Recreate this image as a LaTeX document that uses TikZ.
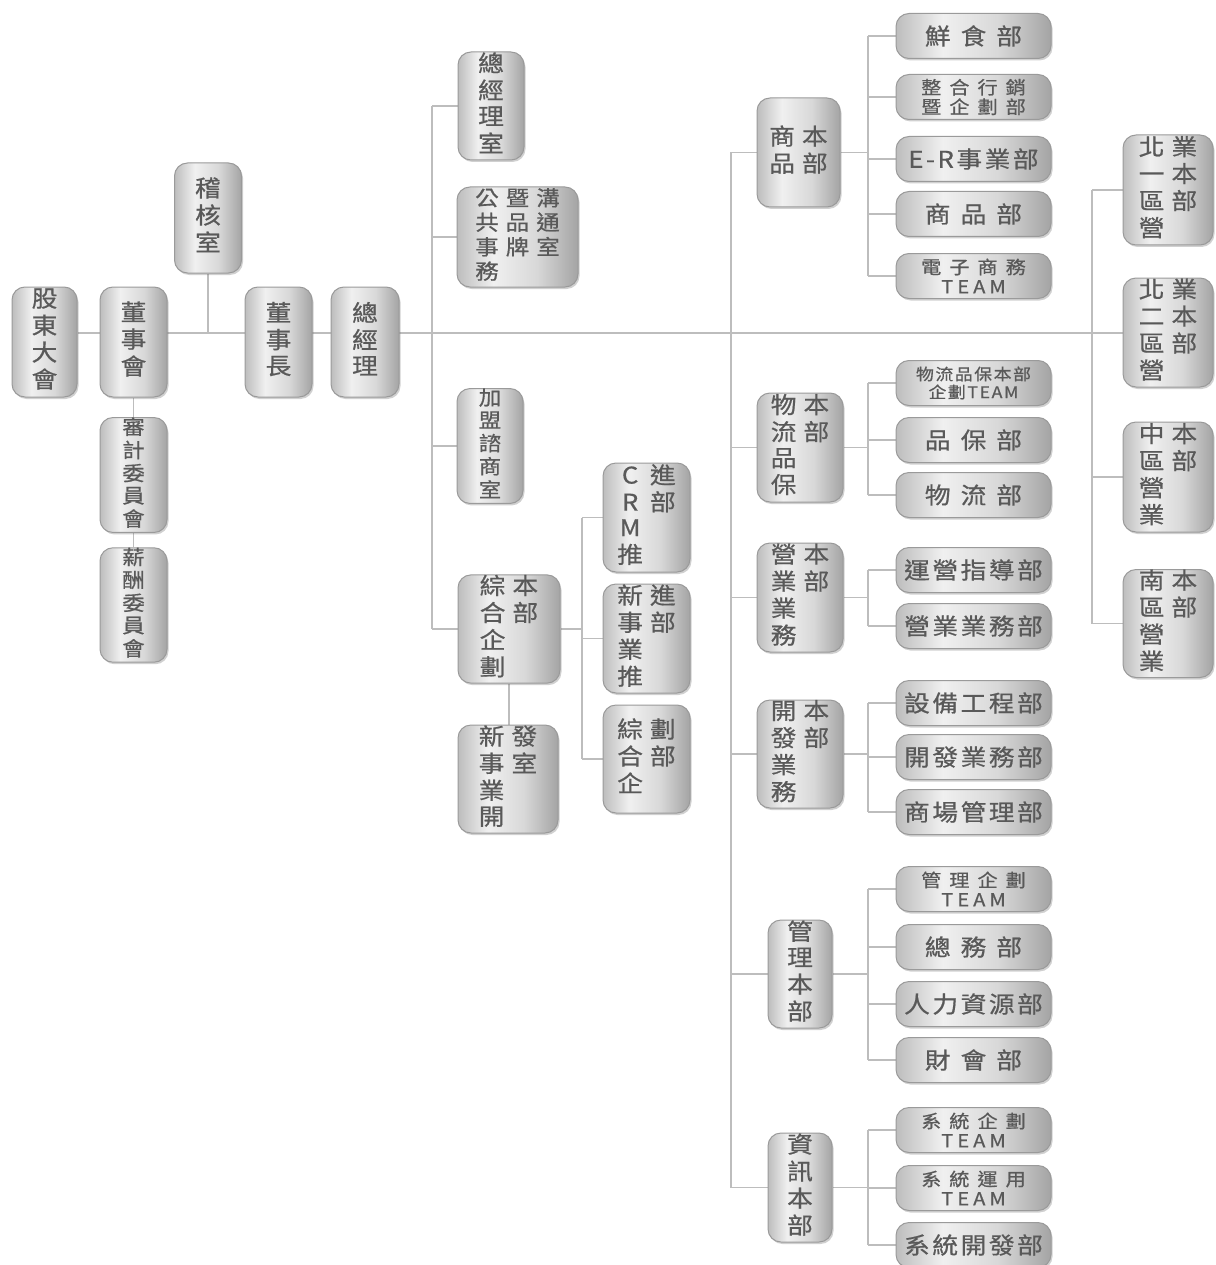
\documentclass[tikz,border=0pt]{standalone}
\usepackage{fontspec}
\newfontfamily\cjk[FakeStretch=1.12,FakeBold=0.7]{Noto Sans CJK TC}
\usetikzlibrary{shadows,backgrounds}
\definecolor{txt}{HTML}{595959}
\definecolor{edge}{HTML}{9A9A9A}
\definecolor{ln}{HTML}{BDBDBD}
\definecolor{shL}{HTML}{BDBDBD}
\definecolor{shM}{HTML}{F0F0F0}
\definecolor{shN}{HTML}{D8D8D8}
\definecolor{shR}{HTML}{A4A4A4}
\pgfdeclarehorizontalshading{boxsh}{100bp}{color(0bp)=(shL); color(25bp)=(shL); color(40bp)=(shM); color(58bp)=(shN); color(75bp)=(shR); color(100bp)=(shR)}
\makeatletter
\newcommand\spc[2]{\def\spc@gap{#1}\spc@a#2\@nil}
\def\spc@a#1{#1\spc@b}
\def\spc@b#1{\ifx\@nil#1\else\hspace{\spc@gap}#1\expandafter\spc@b\fi}
\makeatother
\newcommand\vg[2]{\begin{tabular}{@{}#1@{}}#2\end{tabular}}
\newcommand\vA[1]{\vg{c}{#1}}
\newcommand\vB[1]{\vg{c@{\hspace{7pt}}c}{#1}}
\tikzset{
  box/.style={draw=edge, line width=1pt, rounded corners=13pt, shade, shading=boxsh,
    text=txt, inner sep=0pt, font=\cjk\fontsize{23}{25.5}\selectfont,
    drop shadow={shadow xshift=1.5pt, shadow yshift=-2pt, opacity=0.3, fill=black!60}},
  sz/.style 2 args={minimum width=#1pt, minimum height=#2pt},
  leaf/.style={box, sz={155}{45}, align=center},
  two/.style={font=\cjk\fontsize{18}{19.5}\selectfont},
  conn/.style={draw=ln, line width=1.3pt}
}
\begin{document}
\begin{tikzpicture}[x=1pt,y=-1pt]
\useasboundingbox (0,0) rectangle (1215,1265);
% left group
\node[box,sz={65}{110}] (gd) at (44.5,342) {\vA{股\\東\\大\\會}};
\node[box,sz={67}{110}] (dsh) at (133.5,342) {\vA{董\\事\\會}};
\node[box,sz={67}{110}] (jh) at (208,218) {\vA{稽\\核\\室}};
\node[box,sz={67}{110}] (dsz) at (278.5,342) {\vA{董\\事\\長}};
\node[box,sz={68}{110}] (zjl) at (365,342) {\vA{總\\經\\理}};
\node[box,sz={67}{110},font=\cjk\fontsize{20}{21}\selectfont] (sj) at (133.5,475) {\vA{審\\計\\委\\員\\會}};
\node[box,sz={67}{110},font=\cjk\fontsize{20}{21}\selectfont] (xc) at (133.5,605) {\vA{薪\\酬\\委\\員\\會}};
% column 1
\node[box,sz={66}{108}] (zjls) at (491,106) {\vA{總\\經\\理\\室}};
\node[box,sz={121}{100},font=\cjk\fontsize{21}{22.5}\selectfont] (gg) at (517.5,237) {\vg{c@{\hspace{7pt}}c@{\hspace{7pt}}c}{公&暨&溝\\共&品&通\\事&牌&室\\務&&}};
\node[box,sz={66}{108},font=\cjk\fontsize{20}{21}\selectfont] (jm) at (490,446) {\vA{加\\盟\\諮\\商\\室}};
\node[box,sz={102}{108}] (zh) at (509,629) {\vB{綜&本\\合&部\\企&\\劃&}};
\node[box,sz={100}{108}] (xsy) at (508,779) {\vB{新&發\\事&室\\業&\\開&}};
\node[box,sz={87}{109}] (crm) at (646.5,517.5) {\vB{C&進\\R&部\\M&\\推&}};
\node[box,sz={87}{109}] (xst) at (646.5,638.5) {\vB{新&進\\事&部\\業&\\推&}};
\node[box,sz={87}{108}] (zhq) at (646.5,759) {\vB{綜&劃\\合&部\\企&}};
% column 2
\node[box,sz={83}{109}] (sp) at (798.5,152.5) {\vB{商&本\\品&部}};
\node[box,sz={86}{109}] (wl) at (800,447.5) {\vB{物&本\\流&部\\品&\\保&}};
\node[box,sz={86}{109}] (yy) at (800,597.5) {\vB{營&本\\業&部\\業&\\務&}};
\node[box,sz={86}{108}] (kf) at (800,754) {\vB{開&本\\發&部\\業&\\務&}};
\node[box,sz={64}{108}] (gl) at (800,974) {\vA{管\\理\\本\\部}};
\node[box,sz={64}{109}] (zx) at (800,1187.5) {\vA{資\\訊\\本\\部}};
% leaves
\node[leaf] (l1) at (973.5,36) {\spc{10pt}{鮮食部}};
\node[leaf,two] (l2) at (973.5,97) {\spc{8pt}{整合行銷}\\\spc{8pt}{暨企劃部}};
\node[leaf] (l3) at (973.5,159) {\spc{2.5pt}{E-R事業部}};
\node[leaf] (l4) at (973.5,214) {\spc{10pt}{商品部}};
\node[leaf,two] (l5) at (973.5,276) {\spc{8pt}{電子商務}\\\spc{4pt}{TEAM}};
\node[leaf,font=\cjk\fontsize{16}{18}\selectfont] (m1) at (973.5,383) {\spc{1.5pt}{物流品保本部}\\\spc{1.5pt}{企劃TEAM}};
\node[leaf] (m2) at (973.5,440) {\spc{10pt}{品保部}};
\node[leaf] (m3) at (973.5,495) {\spc{10pt}{物流部}};
\node[leaf] (n1) at (973.5,570) {\spc{2.5pt}{運營指導部}};
\node[leaf] (n2) at (973.5,626) {\spc{2.5pt}{營業業務部}};
\node[leaf] (o1) at (973.5,703) {\spc{2.5pt}{設備工程部}};
\node[leaf] (o2) at (973.5,757) {\spc{2.5pt}{開發業務部}};
\node[leaf] (o3) at (973.5,812) {\spc{2.5pt}{商場管理部}};
\node[leaf,two] (p1) at (973.5,889) {\spc{8pt}{管理企劃}\\\spc{4pt}{TEAM}};
\node[leaf] (p2) at (973.5,947) {\spc{10pt}{總務部}};
\node[leaf] (p3) at (973.5,1004) {\spc{2.5pt}{人力資源部}};
\node[leaf] (p4) at (973.5,1060) {\spc{10pt}{財會部}};
\node[leaf,two] (q1) at (973.5,1130) {\spc{8pt}{系統企劃}\\\spc{4pt}{TEAM}};
\node[leaf,two] (q2) at (973.5,1188) {\spc{8pt}{系統運用}\\\spc{4pt}{TEAM}};
\node[leaf] (q3) at (973.5,1245) {\spc{2.5pt}{系統開發部}};
% right column
\node[box,sz={90}{110}] (r1) at (1168,190) {\vB{北&業\\一&本\\區&部\\營&}};
\node[box,sz={90}{109}] (r2) at (1168,332.5) {\vB{北&業\\二&本\\區&部\\營&}};
\node[box,sz={90}{110}] (r3) at (1168,477) {\vB{中&本\\區&部\\營&\\業&}};
\node[box,sz={90}{107}] (r4) at (1168,623.5) {\vB{南&本\\區&部\\營&\\業&}};
% connectors
\begin{scope}[on background layer]
\fill[white] (0,0) rectangle (1215,1265);
\coordinate (my) at (0,333);
\coordinate (t1) at (432,0);
\coordinate (t1b) at (582,0);
\coordinate (t2) at (731,0);
\coordinate (s2) at (868,0);
\coordinate (t3) at (1092,0);
\draw[conn] (gd.east|-my) -- (r2.west|-my);
\draw[conn] (jh.south) -- (jh.south|-my);
\draw[conn] (dsh.south) -- (sj.north);
\draw[conn] (sj.south) -- (xc.north);
% trunk 1
\draw[conn] (zjls.west-|t1) -- (zh.west-|t1);
\foreach \n in {zjls,gg,jm,zh} \draw[conn] (\n.west) -- (\n.west-|t1);
\draw[conn] (zh.south) -- (zh.south|-xsy.north);
\draw[conn] (zh.east) -- (zh.east-|t1b);
\draw[conn] (crm.west-|t1b) -- (zhq.west-|t1b);
\foreach \n in {crm,xst,zhq} \draw[conn] (\n.west) -- (\n.west-|t1b);
% trunk 2
\draw[conn] (sp.west-|t2) -- (zx.west-|t2);
\foreach \n in {sp,wl,yy,kf,gl,zx} \draw[conn] (\n.west) -- (\n.west-|t2);
\foreach \h/\a/\b in {sp/l1/l5, wl/m1/m3, yy/n1/n2, kf/o1/o3, gl/p1/p4, zx/q1/q3} {
  \draw[conn] (\h.east) -- (\h.east-|s2);
  \draw[conn] (\a.west-|s2) -- (\b.west-|s2);
}
\foreach \n in {l1,l2,l3,l4,l5,m1,m2,m3,n1,n2,o1,o2,o3,p1,p2,p3,p4,q1,q2,q3} \draw[conn] (\n.west) -- (\n.west-|s2);
% trunk 3
\draw[conn] (r1.west-|t3) -- (r4.west-|t3);
\foreach \n in {r1,r3,r4} \draw[conn] (\n.west) -- (\n.west-|t3);
\end{scope}
\end{tikzpicture}
\end{document}
